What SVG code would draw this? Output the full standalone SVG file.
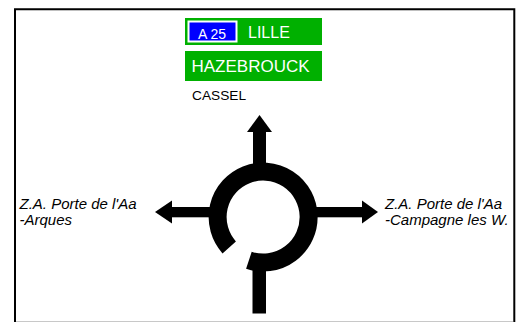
<svg xmlns="http://www.w3.org/2000/svg" width="522" height="322" viewBox="0 0 522 322">
<style>
.sign{fill:#00b000}
.wt{fill:#fff;font-family:"Liberation Sans",Arial,sans-serif}
.bt{fill:#000;font-family:"Liberation Sans",Arial,sans-serif}
.dest{fill:#000;font-family:"Liberation Sans",Arial,sans-serif;font-style:italic;font-size:15px}
.road{fill:#000}
</style>
<rect width="522" height="322" fill="#fff"/>
<path d="M15,330 V9.3 H514.3 V330" fill="none" stroke="#000" stroke-width="2"/>
<line x1="16" y1="321.5" x2="513" y2="321.5" stroke="#c8c8c8" stroke-width="1"/>
<g id="sign-lille">
<rect class="sign" x="185" y="18" width="137" height="27"/>
<rect x="188.5" y="21.5" width="48" height="20" fill="#0000ff" stroke="#fff" stroke-width="2"/>
<text class="wt" x="198" y="38.5" font-size="14">A 25</text>
<text class="wt" x="248" y="38" font-size="16">LILLE</text>
</g>
<g id="sign-hazebrouck">
<rect class="sign" x="185" y="51" width="137" height="30"/>
<text class="wt" x="191.5" y="72" font-size="17">HAZEBROUCK</text>
</g>
<g id="label-cassel">
<text class="bt" x="192" y="100" font-size="13.7">CASSEL</text>
</g>
<g id="label-arques">
<text class="dest" x="19.5" y="208.5">Z.A. Porte de l'Aa</text>
<text class="dest" x="19.5" y="225">-Arques</text>
</g>
<g id="label-campagne">
<text class="dest" x="385" y="208.5">Z.A. Porte de l'Aa</text>
<text class="dest" x="385" y="225">-Campagne les W.</text>
</g>
<g id="roundabout">
<path d="M248.9,260.3 A45.5,45.5 0 1 0 229.2,247.4" fill="none" stroke="#000" stroke-width="18"/>
</g>
<g id="connectors">
<rect class="road" x="252.5" y="255" width="13.5" height="58.5"/>
<rect class="road" x="253" y="130" width="13" height="40"/>
<polygon class="road" points="259.5,115 272,132 247,132"/>
<rect class="road" x="171" y="207" width="42" height="10.3"/>
<polygon class="road" points="155,212 172,200.5 172,223.5"/>
<rect class="road" x="313" y="207" width="50" height="10.3"/>
<polygon class="road" points="378,212 362,200.5 362,223.5"/>
</g>
</svg>
